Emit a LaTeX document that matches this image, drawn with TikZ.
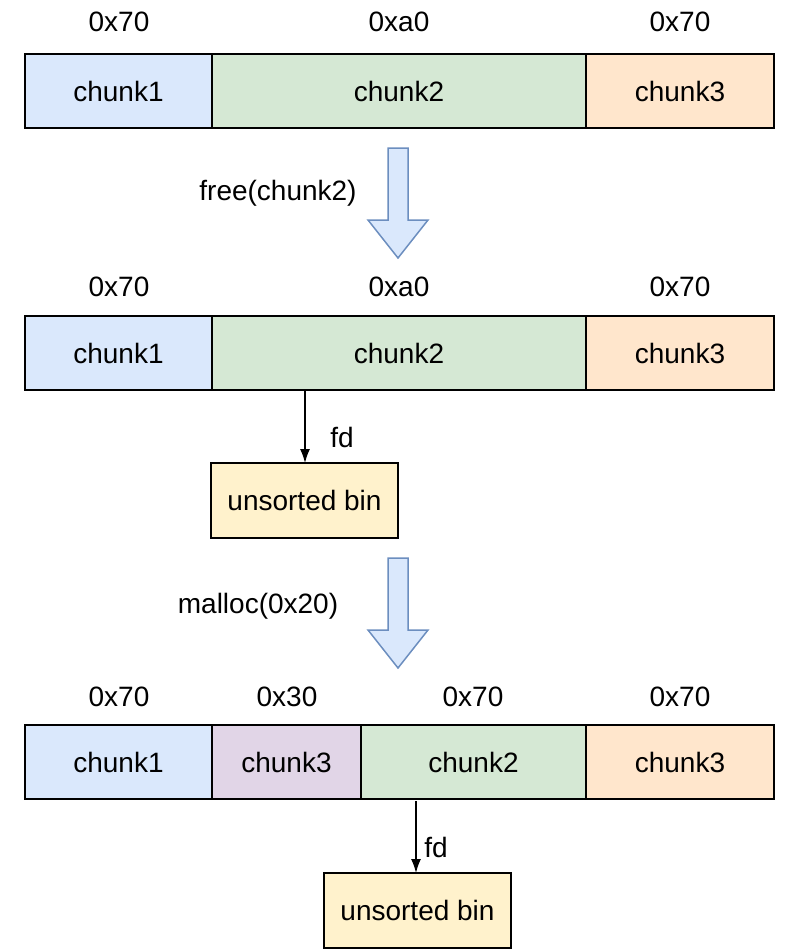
\documentclass[tikz,border=0pt]{standalone}
\usepackage{fontspec}
\setmainfont{Liberation Sans}
\usetikzlibrary{arrows.meta}
\definecolor{cblue}{HTML}{DAE8FC}
\definecolor{cgreen}{HTML}{D5E8D4}
\definecolor{corange}{HTML}{FFE6CC}
\definecolor{cpurple}{HTML}{E1D5E7}
\definecolor{cyellow}{HTML}{FFF2CC}
\definecolor{astroke}{HTML}{6C8EBF}
\begin{document}
\begin{tikzpicture}[x=1pt,y=-1pt,
  every node/.style={font=\fontsize{28}{32}\selectfont},
  box/.style={draw=black,line width=1.2pt,inner sep=0pt},
  lbl/.style={inner sep=0pt},
  blk/.style={draw=astroke,fill=cblue,line width=1.5pt,line join=miter},
  fdarrow/.style={-{Latex[length=14pt,width=10pt]},line width=1.4pt}]
\useasboundingbox (0,0) rectangle (786,951);
\newcommand{\chk}[6]{\draw[box,fill=#5] (#2,#3) rectangle (#4,#3+74); \node[lbl] (#1) at ({(#2+#4)/2},#3+37) {#6};}
% row 1
\chk{ra}{25}{54}{212}{cblue}{chunk1}
\chk{rb}{212}{54}{586}{cgreen}{chunk2}
\chk{rc}{586}{54}{774}{corange}{chunk3}
\node[lbl] (la) at (119,22) {0x70};
\node[lbl] (lb) at (399,22) {0xa0};
\node[lbl] (lc) at (680,22) {0x70};
% arrow 1
\draw[blk] (388,148) -- (408,148) -- (408,220) -- (428,220) -- (398,258) -- (368,220) -- (388,220) -- cycle;
\node[lbl] (f1) at (278,193) {free(chunk2)};
% row 2
\chk{sa}{25}{316}{212}{cblue}{chunk1}
\chk{sb}{212}{316}{586}{cgreen}{chunk2}
\chk{sc}{586}{316}{774}{corange}{chunk3}
\node[lbl] (ma) at (119,287) {0x70};
\node[lbl] (mb) at (399,287) {0xa0};
\node[lbl] (mc) at (680,287) {0x70};
\draw[box,fill=cyellow] (211,463) rectangle (398,538);
\node[lbl] (u1) at (304.5,500.5) {unsorted bin};
\coordinate (s1) at (305,390);
\coordinate (e1) at (305,463);
\draw[fdarrow] (s1) -- (e1);
\node[lbl] (fd1) at (342,437) {fd};
% arrow 2
\draw[blk] (388,558) -- (408,558) -- (408,630) -- (428,630) -- (398,668) -- (368,630) -- (388,630) -- cycle;
\node[lbl] (f2) at (258,606) {malloc(0x20)};
% row 3
\chk{ta}{25}{725}{212}{cblue}{chunk1}
\chk{tb}{212}{725}{361}{cpurple}{chunk3}
\chk{tc}{361}{725}{586}{cgreen}{chunk2}
\chk{td}{586}{725}{774}{corange}{chunk3}
\node[lbl] (na) at (119,697) {0x70};
\node[lbl] (nb) at (287,697) {0x30};
\node[lbl] (nc) at (473,697) {0x70};
\node[lbl] (nd) at (680,697) {0x70};
\draw[box,fill=cyellow] (324,873) rectangle (511,948);
\node[lbl] (u2) at (417.5,910.5) {unsorted bin};
\coordinate (s2) at (416,801);
\coordinate (e2) at (416,873);
\draw[fdarrow] (s2) -- (e2);
\node[lbl] (fd2) at (436,847) {fd};
\end{tikzpicture}
\end{document}
